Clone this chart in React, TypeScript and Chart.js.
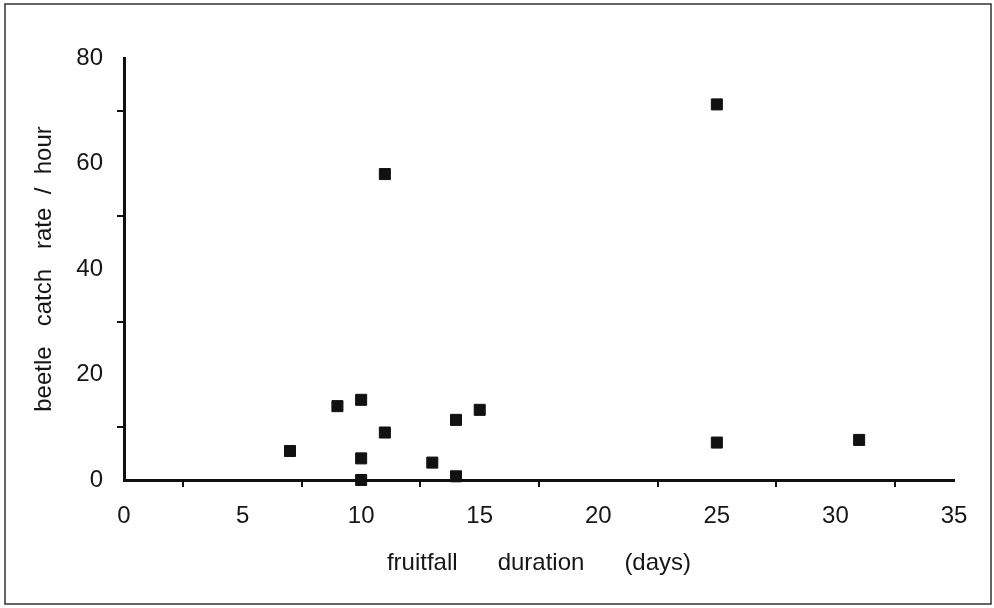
import { useEffect, useRef } from 'react';
import { Chart, registerables } from 'chart.js';

Chart.register(...registerables);

// Data
const fruitfallDays = [7, 9, 10, 10, 10, 11, 11, 13, 14, 14, 15, 25, 25, 31];
const catchRatePerHour = [5.5, 14, 15.2, 4.1, 0, 9, 58, 3.3, 11.4, 0.7, 13.3, 71.2, 7.1, 7.6];

const xTickLabels = ['0', '5', '10', '15', '20', '25', '30', '35'];
const yTickLabels = ['0', '20', '40', '60', '80'];
const xTitle = 'fruitfall      duration      (days)';
const yTitle = 'beetle   catch   rate  /  hour';

const FONT = '"Liberation Sans", Arial, Helvetica, sans-serif';
const INK = '#111111';
const TEXT = '#161616';

const framePlugin = {
  id: 'frame',
  afterDraw(chart: any) {
    const ctx = chart.ctx;
    ctx.save();
    ctx.strokeStyle = '#333333';
    ctx.lineWidth = 1.5;
    ctx.strokeRect(5, 4, 986, 600);
    ctx.restore();
  },
};

export default function App() {
  const ref = useRef<HTMLCanvasElement | null>(null);

  useEffect(() => {
    if (!ref.current) return;
    const points = fruitfallDays.map((x, i) => ({ x, y: catchRatePerHour[i] }));
    const minorColorY = (c: any) =>
      c.tick && Math.abs(c.tick.value % 20) > 1e-6 ? INK : 'rgba(0,0,0,0)';
    const minorColorX = (c: any) =>
      c.tick && Math.abs(c.tick.value % 5) > 1e-6 ? INK : 'rgba(0,0,0,0)';
    const chart = new Chart(ref.current, {
      type: 'scatter',
      data: {
        datasets: [
          {
            data: points,
            pointStyle: 'rect',
            pointRadius: 7.8,
            pointHoverRadius: 7.8,
            borderWidth: 1,
            backgroundColor: INK,
            borderColor: INK,
            clip: false,
          } as any,
        ],
      },
      options: {
        responsive: false,
        animation: false,
        layout: { padding: { top: 58, right: 40, bottom: 0, left: 0 } },
        plugins: {
          legend: { display: false },
          tooltip: { enabled: false },
          title: { display: false },
        },
        scales: {
          x: {
            type: 'linear',
            min: 0,
            max: 35,
            afterFit: (s: any) => {
              s.height = 128;
            },
            border: { display: true, color: INK, width: 3 },
            grid: {
              display: true,
              drawOnChartArea: false,
              drawTicks: true,
              tickLength: 7,
              lineWidth: 2,
              color: minorColorX,
            },
            ticks: {
              stepSize: 2.5,
              autoSkip: false,
              maxRotation: 0,
              padding: 15,
              color: TEXT,
              font: { family: FONT, size: 24 },
              callback: (v: any) => {
                const s = String(v);
                return xTickLabels.includes(s) ? s : '';
              },
            },
            title: {
              display: true,
              text: xTitle,
              color: TEXT,
              font: { family: FONT, size: 24 },
              padding: { top: 0, bottom: 30 },
            },
          },
          y: {
            type: 'linear',
            min: 0,
            max: 80,
            afterFit: (s: any) => {
              s.width = 124;
            },
            border: { display: true, color: INK, width: 3 },
            grid: {
              display: true,
              drawOnChartArea: false,
              drawTicks: true,
              tickLength: 7,
              lineWidth: 2,
              color: minorColorY,
            },
            ticks: {
              stepSize: 10,
              autoSkip: false,
              padding: 14,
              color: TEXT,
              font: { family: FONT, size: 24 },
              callback: (v: any) => {
                const s = String(v);
                return yTickLabels.includes(s) ? s : '';
              },
            },
            title: {
              display: true,
              text: yTitle,
              color: TEXT,
              font: { family: FONT, size: 24 },
              padding: { top: 30, bottom: 0 },
            },
          },
        },
      },
      plugins: [framePlugin],
    });
    return () => chart.destroy();
  }, []);

  return (
    <div style={{ position: 'fixed', left: 0, top: 0, width: 994, height: 608, background: '#fff' }}>
      <canvas ref={ref} width={994} height={608} style={{ display: 'block' }} />
    </div>
  );
}
